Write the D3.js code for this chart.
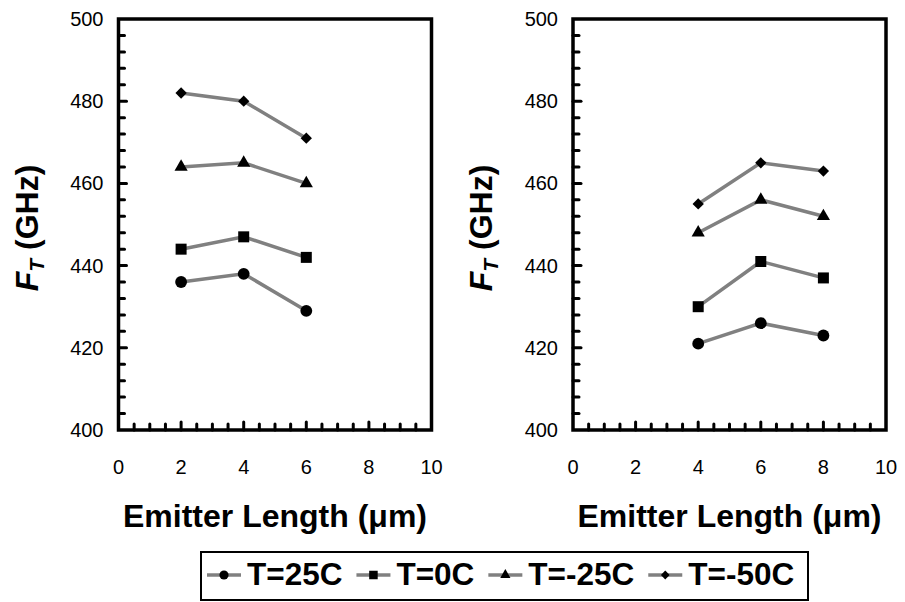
<!DOCTYPE html>
<html>
<head>
<meta charset="utf-8">
<script src="https://cdn.jsdelivr.net/npm/d3@7"></script>
<style>
  body { margin: 0; background: #fff; }
  svg { display: block; font-family: "Liberation Sans", Arial, sans-serif; }
</style>
</head>
<body>
<div id="chart"></div>
<script>
const seriesNames = ["T=25C", "T=0C", "T=-25C", "T=-50C"];
const leftLengths = [2, 4, 6];
const rightLengths = [4, 6, 8];
const left25 = [436, 438, 429];
const left0 = [444, 447, 442];
const leftM25 = [464, 465, 460];
const leftM50 = [482, 480, 471];
const right25 = [421, 426, 423];
const right0 = [430, 441, 437];
const rightM25 = [448, 456, 452];
const rightM50 = [455, 465, 463];
const xTicks = [0, 2, 4, 6, 8, 10];
const yTicks = [400, 420, 440, 460, 480, 500];

const width = 905, height = 602;
const svg = d3.select("#chart").append("svg")
  .attr("width", width)
  .attr("height", height);

const lineColor = "#808080";

// Marker je Serie
function markerPath(i, scale) {
  const s = scale || 1;
  if (i === 0) return d3.symbol().type(d3.symbolCircle).size(110 * s)();
  if (i === 1) return d3.symbol().type(d3.symbolSquare).size(121 * s)();
  if (i === 2) return d3.symbol().type(d3.symbolTriangle).size(75 * s)();
  return d3.symbol().type(d3.symbolSquare).size(64 * s)();
}
function markerRotate(i) { return i === 3 ? " rotate(45)" : ""; }

function drawPanel(left, right, lengths, values) {
  const x = d3.scaleLinear().domain([0, 10]).range([left, right]);
  const y = d3.scaleLinear().domain([400, 500]).range([430, 19]);
  const g = svg.append("g");

  // Minor / Major Ticks (nach innen)
  const xMinor = d3.range(0.5, 10, 0.5);
  g.selectAll(".xtick").data(xMinor).enter().append("line")
    .attr("x1", d => x(d)).attr("x2", d => x(d))
    .attr("y1", y(400)).attr("y2", d => y(400) - (d % 2 === 0 ? 8 : 6))
    .attr("stroke", "#000").attr("stroke-width", 3).attr("stroke-linecap", "round");
  const yMinor = d3.range(404, 500, 4);
  g.selectAll(".ytick").data(yMinor).enter().append("line")
    .attr("y1", d => y(d)).attr("y2", d => y(d))
    .attr("x1", x(0)).attr("x2", d => x(0) + (d % 20 === 0 ? 8 : 6))
    .attr("stroke", "#000").attr("stroke-width", 3).attr("stroke-linecap", "round");

  // Rahmen
  g.append("rect")
    .attr("x", x(0)).attr("y", y(500))
    .attr("width", x(10) - x(0)).attr("height", y(400) - y(500))
    .attr("fill", "none").attr("stroke", "#000").attr("stroke-width", 3.5);

  // Tick-Beschriftungen
  g.selectAll(".xl").data(xTicks).enter().append("text")
    .attr("x", d => x(d)).attr("y", 474)
    .attr("text-anchor", "middle")
    .style("font-size", "20px")
    .text(d => d);
  g.selectAll(".yl").data(yTicks).enter().append("text")
    .attr("x", x(0) - 15).attr("y", d => y(d) + 7)
    .attr("text-anchor", "end")
    .style("font-size", "20px")
    .text(d => d);

  // Achsentitel
  g.append("text")
    .attr("x", (x(0) + x(10)) / 2).attr("y", 527)
    .attr("text-anchor", "middle")
    .style("font-size", "32px").style("font-weight", "bold")
    .text("Emitter Length (μm)");

  const yt = g.append("text")
    .attr("transform", `translate(${x(0) - 81},228) rotate(-90)`)
    .attr("text-anchor", "middle")
    .style("font-size", "32px").style("font-weight", "bold");
  yt.append("tspan").style("font-style", "italic").text("F");
  yt.append("tspan").style("font-style", "italic").style("font-size", "21px")
    .attr("dy", 6).text("T");
  yt.append("tspan").attr("dy", -6).text(" (GHz)");

  // Linien und Marker
  const line = d3.line().x((d, i) => x(lengths[i])).y(d => y(d));
  values.forEach((vals, si) => {
    g.append("path")
      .attr("d", line(vals))
      .attr("fill", "none")
      .attr("stroke", lineColor)
      .attr("stroke-width", 3.5);
    g.selectAll(".m" + si).data(vals).enter().append("path")
      .attr("d", markerPath(si))
      .attr("transform", (d, i) => `translate(${x(lengths[i])},${y(d)})` + markerRotate(si))
      .attr("fill", "#000");
  });
}

drawPanel(118.5, 431.5, leftLengths, [left25, left0, leftM25, leftM50]);
drawPanel(573, 886, rightLengths, [right25, right0, rightM25, rightM50]);

// Legende
const legend = svg.append("g");
legend.append("rect")
  .attr("x", 201).attr("y", 552).attr("width", 607).attr("height", 48)
  .attr("fill", "#fff").attr("stroke", "#000").attr("stroke-width", 2);

let cx = 207;
seriesNames.forEach((name, i) => {
  legend.append("line")
    .attr("x1", cx).attr("x2", cx + 34)
    .attr("y1", 575).attr("y2", 575)
    .attr("stroke", lineColor).attr("stroke-width", 3.5);
  legend.append("path")
    .attr("d", markerPath(i, 0.6))
    .attr("transform", `translate(${cx + 17},575)` + markerRotate(i))
    .attr("fill", "#000");
  const t = legend.append("text")
    .attr("x", cx + 40).attr("y", 585)
    .style("font-size", "31.5px").style("font-weight", "bold")
    .text(name);
  cx = cx + 40 + t.node().getComputedTextLength() + 14;
});
</script>
</body>
</html>
